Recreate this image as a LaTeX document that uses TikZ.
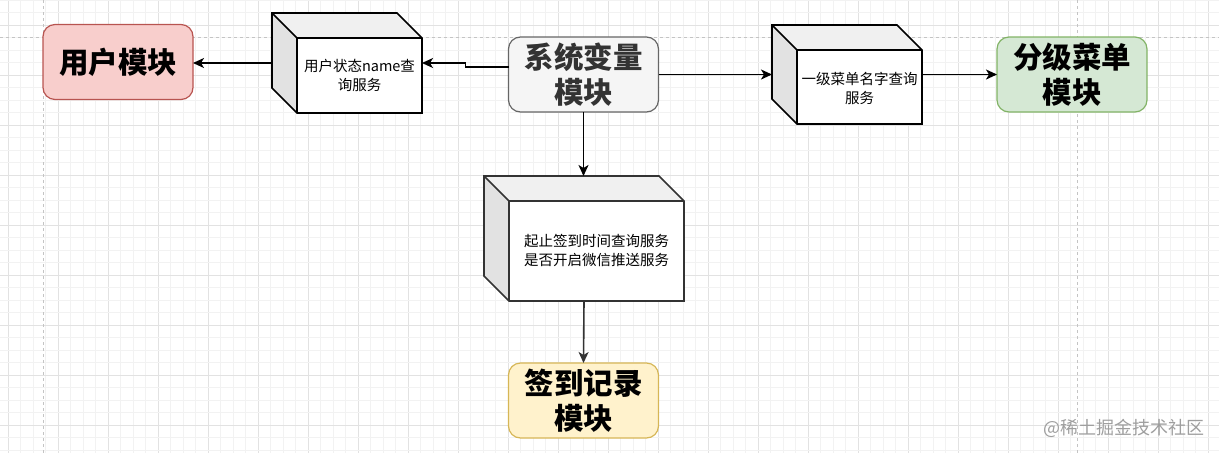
\documentclass[tikz,border=0pt]{standalone}
\usepackage{fontspec}
\newfontfamily\cjk{Noto Sans CJK SC}
\usetikzlibrary{arrows.meta}
\definecolor{gridminor}{HTML}{F2F2F2}
\definecolor{gridmajor}{HTML}{E2E2E2}
\definecolor{pagedash}{HTML}{C4C4C4}
\definecolor{redfill}{HTML}{F8CECC}
\definecolor{redline}{HTML}{B85450}
\definecolor{greyfill}{HTML}{F5F5F5}
\definecolor{greyline}{HTML}{666666}
\definecolor{greytext}{HTML}{333333}
\definecolor{greenfill}{HTML}{D5E8D4}
\definecolor{greenline}{HTML}{82B366}
\definecolor{yellowfill}{HTML}{FFF2CC}
\definecolor{yellowline}{HTML}{D6B656}
\definecolor{cubetop}{HTML}{F0F0F0}
\definecolor{cubeside}{HTML}{E2E2E2}
\tikzset{
  module/.style={draw, rounded corners=12pt, line width=1.2pt, minimum width=150pt, minimum height=75pt, inner sep=0pt, outer sep=0pt, align=center, font=\cjk\bfseries\fontsize{29.5}{35}\selectfont},
  cubebb/.style={inner sep=0pt, outer sep=0pt},
  cubetext/.style={align=center, font=\cjk\fontsize{14.5}{19}\selectfont, inner sep=0pt},
  conn/.style={line width=1.6pt, -{Stealth[length=11pt,width=10pt,inset=3pt]}},
}
\newcommand\mycube[6]{%
  \node[cubebb, minimum width=#4, minimum height=#5] (#1) at (#2,#3) {};
  \fill[cubetop] (#1.north west) -- ([xshift=-25pt]#1.north east) -- ([yshift=-25pt]#1.north east) -- ([xshift=25pt,yshift=-25pt]#1.north west) -- cycle;
  \fill[cubeside] (#1.north west) -- ([xshift=25pt,yshift=-25pt]#1.north west) -- ([xshift=25pt]#1.south west) -- ([yshift=25pt]#1.south west) -- cycle;
  \fill[white] ([xshift=25pt,yshift=-25pt]#1.north west) rectangle (#1.south east);
  \draw[#6, line width=1.6pt, line join=miter]
    (#1.north west) -- ([xshift=-25pt]#1.north east) -- ([yshift=-25pt]#1.north east) -- (#1.south east) -- ([xshift=25pt]#1.south west) -- ([yshift=25pt]#1.south west) -- cycle
    (#1.north west) -- ([xshift=25pt,yshift=-25pt]#1.north west) -- ([yshift=-25pt]#1.north east)
    ([xshift=25pt,yshift=-25pt]#1.north west) -- ([xshift=25pt]#1.south west);
}
\begin{document}
\begin{tikzpicture}[x=1pt,y=-1pt]
\useasboundingbox (0,0) rectangle (1219,453);
% grid
\foreach \i in {0,...,97} {
  \pgfmathtruncatemacro\m{mod(\i,4)}
  \ifnum\m=0 \draw[gridmajor, line width=0.8pt] ({8+12.5*\i},0) -- ({8+12.5*\i},453);
  \else \draw[gridminor, line width=0.8pt] ({8+12.5*\i},0) -- ({8+12.5*\i},453); \fi
}
\foreach \j in {0,...,36} {
  \pgfmathtruncatemacro\m{mod(\j,4)}
  \ifnum\m=2 \draw[gridmajor, line width=0.8pt] (0,{12.5*\j}) -- (1219,{12.5*\j});
  \else \draw[gridminor, line width=0.8pt] (0,{12.5*\j}) -- (1219,{12.5*\j}); \fi
}
\draw[pagedash, line width=1pt, dash pattern=on 3pt off 3pt] (43,0) -- (43,453);
\draw[pagedash, line width=1pt, dash pattern=on 3pt off 3pt] (1077,0) -- (1077,453);
\draw[pagedash, line width=1pt, dash pattern=on 3pt off 3pt] (0,37) -- (1219,37);

% modules
\node[module, fill=redfill, draw=redline] (user) at (118,62) {用户模块};
\node[module, fill=greyfill, draw=greyline, text=greytext] (sys) at (583.5,74.5) {系统变量\\模块};
\node[module, fill=greenfill, draw=greenline] (menu) at (1072,74.5) {分级菜单\\模块};
\node[module, fill=yellowfill, draw=yellowline] (sign) at (583.5,400.5) {签到记录\\模块};

% cubes
\mycube{c1}{347}{63}{150pt}{100pt}{black}
\node[cubetext] (t1) at (359.5,75.5) {用户状态name查\\询服务};
\mycube{c2}{847}{74.5}{150pt}{99pt}{black}
\node[cubetext] (t2) at (859.5,88) {一级菜单名字查询\\服务};
\mycube{c3}{584}{238.5}{200pt}{125pt}{greytext}
\node[cubetext] (t3) at (596.5,250.5) {起止签到时间查询服务\\是否开启微信推送服务};

% connectors
\draw[conn] ([yshift=7.5pt]sys.west) -- ++(-43,0) |- (c1.east);
\draw[conn] (c1.west) -- (c1.west -| user.east);
\draw[conn] (sys.east) -- (sys.east -| c2.west);
\draw[conn] (c2.east) -- (c2.east -| menu.west);
\draw[conn] (sys.south) -- (sys.south |- c3.north);
\draw[conn, draw=greytext] (c3.south) -- (sign.north);

% watermark
\node[font=\cjk\fontsize{18}{20}\selectfont, text=black!38, inner sep=0pt] (wm) at (1124,428) {@稀土掘金技术社区};
\end{tikzpicture}
\end{document}
